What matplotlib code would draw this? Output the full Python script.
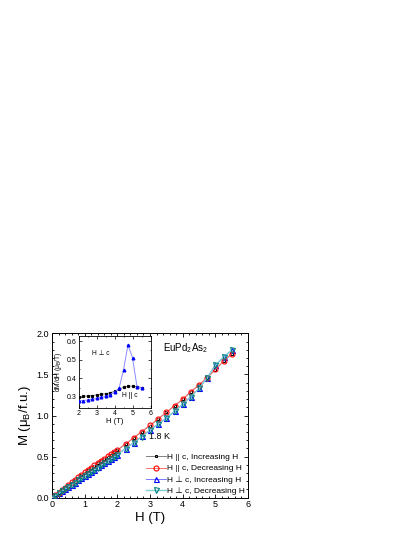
import numpy as np
import matplotlib
matplotlib.use("Agg")
import matplotlib.pyplot as plt
from matplotlib.ticker import MultipleLocator

plt.rcParams['font.family'] = ['Liberation Sans', 'DejaVu Sans']
plt.rcParams['mathtext.fontset'] = 'custom'
plt.rcParams['mathtext.rm'] = 'Liberation Sans'
plt.rcParams['mathtext.it'] = 'Liberation Sans:italic'
plt.rcParams['mathtext.bf'] = 'Liberation Sans:bold'

# ---- main panel data ----
H = [0.0, 0.1, 0.2, 0.3, 0.4, 0.5, 0.6, 0.7, 0.8, 0.9, 1.0, 1.1, 1.2, 1.3, 1.4,
     1.5, 1.6, 1.7, 1.8, 1.9, 2.0, 2.25, 2.5, 2.75, 3.0, 3.25, 3.5, 3.75, 4.0,
     4.25, 4.5, 4.75, 5.0, 5.25, 5.5]
M_par_inc = [0.0, 0.029, 0.060, 0.091, 0.121, 0.152, 0.182, 0.212, 0.243, 0.273,
             0.303, 0.332, 0.361, 0.389, 0.417, 0.445, 0.472, 0.499, 0.525, 0.551,
             0.577, 0.652, 0.727, 0.802, 0.877, 0.957, 1.037, 1.117, 1.197,
             1.287, 1.372, 1.458, 1.557, 1.657, 1.747]
M_par_dec = [0.0, 0.030, 0.062, 0.093, 0.124, 0.155, 0.186, 0.216, 0.247, 0.277,
             0.307, 0.336, 0.365, 0.393, 0.421, 0.449, 0.476, 0.503, 0.529, 0.555,
             0.580, 0.655, 0.730, 0.805, 0.880, 0.960, 1.040, 1.120, 1.200,
             1.290, 1.375, 1.460, 1.560, 1.660, 1.750]
M_perp_inc = [0.0, 0.026, 0.053, 0.079, 0.105, 0.132, 0.158, 0.184, 0.211, 0.237,
              0.263, 0.289, 0.316, 0.342, 0.368, 0.394, 0.420, 0.446, 0.472, 0.498,
              0.524, 0.598, 0.668, 0.745, 0.824, 0.897, 0.970, 1.050, 1.140,
              1.230, 1.330, 1.460, 1.610, 1.710, 1.795]
M_perp_dec = [0.0, 0.026, 0.052, 0.078, 0.104, 0.131, 0.157, 0.183, 0.210, 0.236,
              0.262, 0.288, 0.315, 0.341, 0.367, 0.393, 0.419, 0.445, 0.471, 0.497,
              0.523, 0.597, 0.667, 0.744, 0.823, 0.896, 0.969, 1.049, 1.139,
              1.229, 1.329, 1.459, 1.609, 1.709, 1.794]

labels = ['H || c, Increasing H', 'H || c, Decreasing H',
          'H \u22a5 c, Increasing H', 'H \u22a5 c, Decreasing H']

# ---- inset data ----
H_in = [2.0, 2.25, 2.5, 2.75, 3.0, 3.25, 3.5, 3.75, 4.0, 4.25, 4.5, 4.75, 5.0, 5.25, 5.5]
dMdH_par = [0.300, 0.302, 0.305, 0.307, 0.310, 0.313, 0.317, 0.322, 0.330,
            0.340, 0.352, 0.358, 0.357, 0.355, 0.350]
dMdH_perp = [0.278, 0.280, 0.283, 0.287, 0.292, 0.297, 0.303, 0.312, 0.325,
             0.345, 0.445, 0.580, 0.510, 0.355, 0.348]

fig = plt.figure(figsize=(4.15, 5.37), dpi=100)
ax = fig.add_axes([52/415, 1-497.7/537, (248-52)/415, (497.7-333.3)/537])

ax.plot(H, M_par_inc, color='#808080', lw=0.7, marker='s', ms=2.0, mfc='none',
        mec='black', mew=0.7, label=labels[0], zorder=3)
ax.plot(H, M_par_dec, color='#ff7070', lw=0.7, marker='o', ms=3.6, mfc='none',
        mec='red', mew=0.8, label=labels[1], zorder=4)
ax.plot(H, M_perp_inc, color='#7a7aff', lw=0.7, marker='^', ms=3.6, mfc='none',
        mec='blue', mew=0.8, label=labels[2], zorder=3)
ax.plot(H, M_perp_dec, color='#7fd0d0', lw=1.0, marker='v', ms=3.6, mfc='none',
        mec='#008080', mew=0.8, label=labels[3], zorder=5)

ax.set_xlim(0, 6)
ax.set_ylim(0, 2)
ax.xaxis.set_major_locator(MultipleLocator(1))
ax.xaxis.set_minor_locator(MultipleLocator(0.2))
ax.yaxis.set_major_locator(MultipleLocator(0.5))
ax.yaxis.set_minor_locator(MultipleLocator(0.1))
ax.tick_params(which='both', direction='in', top=True, right=True, labelsize=6.5,
               width=0.6, pad=2)
ax.tick_params(which='major', length=3)
ax.tick_params(which='minor', length=1.6)
for s in ax.spines.values():
    s.set_linewidth(0.7)
ax.set_xlabel('H (T)', fontsize=9.5, labelpad=2)
ax.set_ylabel('M (\u03bc$_\\mathrm{B}$/f.u.)', fontsize=9.5, labelpad=3)

ax.text(3.3, 0.75, '1.8 K', fontsize=6.5, ha='center', va='center')
ax.text(3.4, 1.82, 'EuPd$_\\mathrm{2}$As$_\\mathrm{2}$', fontsize=7, ha='left', va='center')

leg = ax.legend(loc='lower right', frameon=False, fontsize=6, handlelength=2.4,
                handletextpad=0.2, labelspacing=0.4, borderpad=0.2,
                borderaxespad=0.15)

# ---- inset ----
axi = fig.add_axes([78.5/415, 1-408/537, (150.5-78.5)/415, (408-336)/537])
axi.plot(H_in, dMdH_par, color='#808080', lw=0.6, marker='s', ms=1.3,
         mfc='black', mec='black', zorder=3)
axi.plot(H_in, dMdH_perp, color='#8c8cff', lw=0.7, marker='^', ms=1.9,
         mfc='blue', mec='blue', zorder=3)
axi.set_xlim(2, 6)
axi.set_ylim(0.24, 0.627)
axi.xaxis.set_major_locator(MultipleLocator(1))
axi.xaxis.set_minor_locator(MultipleLocator(0.5))
axi.yaxis.set_major_locator(MultipleLocator(0.1))
axi.yaxis.set_minor_locator(MultipleLocator(0.05))
axi.tick_params(which='both', direction='in', top=True, right=True, labelsize=5,
                width=0.5, pad=1.5)
axi.tick_params(which='major', length=2)
axi.tick_params(which='minor', length=1)
for s in axi.spines.values():
    s.set_linewidth(0.6)
axi.set_xlabel('H (T)', fontsize=5.5, labelpad=1)
axi.set_ylabel('dM/dH (\u03bc$_\\mathrm{B}$/T)', fontsize=4.8, labelpad=1.5)
axi.text(3.25, 0.535, 'H \u22a5 c', fontsize=4.8, ha='center', va='center')
axi.text(4.85, 0.305, 'H || c', fontsize=4.8, ha='center', va='center')

fig.savefig('out.png', dpi=100)
